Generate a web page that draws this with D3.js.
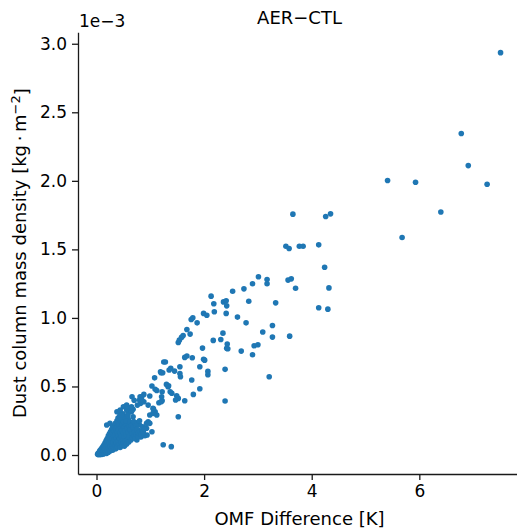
<!DOCTYPE html>
<html>
<head>
<meta charset="utf-8">
<script src="https://cdn.jsdelivr.net/npm/d3@7"></script>
<style>
  html, body { margin: 0; padding: 0; background: #ffffff; }
  svg { display: block; }
  text { font-family: "DejaVu Sans", sans-serif; fill: #000; }
</style>
</head>
<body>
<svg id="chart" width="517" height="532"></svg>
<script>
// ---- Data ----
const chartTitle = "AER\u2212CTL";
const xLabel = "OMF Difference [K]";
const yLabelMain = "Dust column mass density [kg\u2009\u00B7\u2009m";
const yOffsetText = "1e\u22123";

// OMF difference [K]
const omfDiff = [
  7.51, 6.78, 6.91, 7.26, 5.41, 5.93, 6.40, 5.68, 3.65, 4.26, 4.35, 3.52, 3.58, 3.77, 3.84, 4.13,
  4.24, 3.56, 3.62, 3.70, 4.32, 3.01, 3.17, 3.17, 2.90, 2.74, 2.53, 2.13, 2.36, 2.41, 2.18, 2.42,
  2.83, 3.33, 4.13, 4.30, 1.99, 2.05, 2.19, 2.41, 2.62, 2.78, 3.27, 3.09, 3.27, 3.59, 2.35, 2.17,
  2.31, 2.43, 2.42, 2.44, 1.97, 2.69, 2.93, 3.00, 2.90, 1.99, 2.01, 1.92, 2.07, 2.07, 2.39, 3.21,
  1.92, 2.39,
  1.25, 1.28, 1.08, 1.20, 1.23, 1.35, 1.38, 1.55, 1.55, 1.64, 1.68, 1.78, 1.52, 1.54, 1.58, 1.61,
  1.68, 1.74, 1.76, 1.79, 1.87, 1.80, 1.64, 1.52, 1.49, 1.47, 1.40, 1.37, 1.34, 1.56, 1.12, 1.16,
  1.20, 1.22, 1.52, 0.99, 0.84, 0.96, 1.06, 1.09, 0.99, 1.24, 1.39, 1.45, 1.19, 1.30, 1.33, 1.77,
  1.22, 1.21, 0.82, 0.88, 1.05, 1.05, 1.12, 0.96, 0.93, 0.83, 0.90, 0.80, 0.86, 0.43, 0.46, 0.59,
  0.68, 0.76, 0.65, 0.80, 0.88, 0.59, 0.68, 0.74, 0.77, 0.71, 1.03, 1.09, 0.66, 0.70, 0.81, 0.84,
  0.50, 0.56, 0.62, 0.93, 0.99, 1.03, 0.94, 0.81, 0.75,
  0.02, 0.03, 0.04, 0.05, 0.05, 0.06, 0.07, 0.07, 0.08, 0.08, 0.09, 0.10, 0.10, 0.10,
  0.11, 0.12, 0.12, 0.13, 0.13, 0.14, 0.14, 0.15, 0.15, 0.16, 0.16, 0.17, 0.17, 0.18, 0.18, 0.19, 0.19, 0.20, 0.20, 0.20,
  0.21, 0.22, 0.22, 0.22, 0.23, 0.24, 0.24, 0.25, 0.25, 0.26, 0.26, 0.27, 0.27, 0.28, 0.28, 0.29, 0.29, 0.30, 0.30, 0.30,
  0.31, 0.32, 0.32, 0.33, 0.33, 0.34, 0.34, 0.35, 0.35, 0.36, 0.36, 0.37, 0.37, 0.38, 0.38, 0.39, 0.39, 0.40, 0.40, 0.40,
  0.41, 0.42, 0.42, 0.43, 0.43, 0.44, 0.44, 0.45, 0.45, 0.46, 0.46, 0.47, 0.47, 0.48, 0.48, 0.49, 0.49, 0.50, 0.50, 0.50,
  0.51, 0.52, 0.52, 0.53, 0.53, 0.54, 0.55, 0.55, 0.56, 0.56, 0.57, 0.58, 0.58, 0.59, 0.60, 0.60,
  0.61, 0.62, 0.63, 0.64, 0.65, 0.66, 0.67, 0.68, 0.69, 0.70, 0.71, 0.72, 0.73, 0.74, 0.75,
  0.77, 0.78, 0.80, 0.81, 0.83, 0.85, 0.87, 0.89, 0.38, 0.44, 0.47, 0.19, 0.25, 0.56, 0.65
];

// Dust column mass density, in units of 1e-3 kg m^-2
const dustDensityE3 = [
  2.935, 2.345, 2.111, 1.975, 2.002, 1.990, 1.773, 1.587, 1.757, 1.740, 1.759, 1.523, 1.506, 1.523, 1.523, 1.533,
  1.370, 1.276, 1.285, 1.217, 1.219, 1.300, 1.280, 1.249, 1.249, 1.212, 1.195, 1.159, 1.117, 1.125, 1.103, 1.088,
  1.122, 1.110, 1.074, 1.064, 1.033, 1.020, 1.045, 1.033, 1.006, 0.964, 0.945, 0.897, 0.860, 0.867, 0.889, 0.836,
  0.843, 0.809, 0.778, 0.775, 0.780, 0.758, 0.797, 0.804, 0.731, 0.698, 0.692, 0.644, 0.610, 0.585, 0.625, 0.571,
  0.483, 0.394,
  0.678, 0.678, 0.563, 0.600, 0.600, 0.620, 0.632, 0.644, 0.595, 0.712, 0.722, 0.709, 0.821, 0.838, 0.858, 0.872,
  0.916, 0.882, 0.989, 1.001, 0.964, 0.442, 0.396, 0.413, 0.432, 0.401, 0.450, 0.461, 0.505, 0.571, 0.471, 0.381,
  0.388, 0.396, 0.279, 0.430, 0.425, 0.364, 0.335, 0.316, 0.292, 0.075, 0.061, 0.612, 0.607, 0.515, 0.498, 0.547,
  0.461, 0.425, 0.377, 0.388, 0.340, 0.304, 0.292, 0.243, 0.195, 0.133, 0.141, 0.219, 0.206, 0.316, 0.292, 0.308,
  0.333, 0.364, 0.352, 0.401, 0.442, 0.260, 0.279, 0.235, 0.182, 0.195, 0.503, 0.479, 0.425, 0.400, 0.425, 0.401,
  0.352, 0.364, 0.340, 0.231, 0.231, 0.170, 0.146, 0.133, 0.109,
  0.005, 0.012, 0.002, 0.020, 0.008, 0.030, 0.015, 0.003, 0.040, 0.022, 0.010, 0.050, 0.030, 0.005,
  0.018, 0.062, 0.040, 0.008, 0.028, 0.075, 0.052, 0.015, 0.038, 0.090, 0.065, 0.025, 0.045, 0.105, 0.078, 0.012, 0.055, 0.120, 0.092, 0.035,
  0.068, 0.140, 0.108, 0.020, 0.048, 0.085, 0.155, 0.125, 0.030, 0.062, 0.170, 0.100, 0.142, 0.045, 0.185, 0.078, 0.118, 0.160, 0.200, 0.035,
  0.092, 0.055, 0.135, 0.215, 0.175, 0.110, 0.070, 0.150, 0.232, 0.045, 0.190, 0.125, 0.088, 0.250, 0.165, 0.060, 0.205, 0.140, 0.270, 0.100,
  0.180, 0.075, 0.225, 0.120, 0.285, 0.160, 0.055, 0.245, 0.200, 0.095, 0.140, 0.262, 0.180, 0.070, 0.220, 0.115, 0.300, 0.160, 0.240, 0.085,
  0.200, 0.065, 0.130, 0.275, 0.175, 0.100, 0.225, 0.150, 0.080, 0.250, 0.195, 0.115, 0.290, 0.165, 0.095, 0.215,
  0.135, 0.240, 0.185, 0.110, 0.215, 0.155, 0.125, 0.200, 0.245, 0.140, 0.170, 0.120, 0.215, 0.150, 0.185,
  0.135, 0.160, 0.250, 0.170, 0.150, 0.180, 0.165, 0.190, 0.316, 0.328, 0.292, 0.219, 0.231, 0.328, 0.316
];

const xTicks = [0, 2, 4, 6];
const yTicks = [0.0, 0.5, 1.0, 1.5, 2.0, 2.5, 3.0];

// ---- Drawing ----
const svg = d3.select("#chart");
const plotLeft = 78, plotRight = 521, plotTop = 32.3, plotBottom = 474;

const xScale = d3.scaleLinear().domain([-0.344, 7.89]).range([plotLeft, plotRight]);
const yScale = d3.scaleLinear().domain([-0.1385, 3.0835]).range([plotBottom, plotTop]);

const points = omfDiff.map((d, i) => ({ x: d, y: dustDensityE3[i] }));

svg.append("g")
  .selectAll("circle")
  .data(points)
  .join("circle")
  .attr("cx", d => xScale(d.x))
  .attr("cy", d => yScale(d.y))
  .attr("r", 2.8)
  .attr("fill", "#1f77b4");

const xAxis = svg.append("g")
  .attr("transform", `translate(0,${plotBottom})`)
  .call(d3.axisBottom(xScale).tickValues(xTicks).tickFormat(d3.format("d")).tickSize(6).tickPadding(5).tickSizeOuter(0));
const yAxis = svg.append("g")
  .attr("transform", `translate(${plotLeft},0)`)
  .call(d3.axisLeft(yScale).tickValues(yTicks).tickFormat(d3.format(".1f")).tickSize(6).tickPadding(5).tickSizeOuter(0));

[xAxis, yAxis].forEach(g => {
  g.select(".domain").attr("stroke", "#1a1a1a").attr("stroke-width", 1.3);
  g.selectAll(".tick line").attr("stroke", "#1a1a1a").attr("stroke-width", 1.3);
  g.selectAll(".tick text")
    .attr("fill", "#000")
    .style("font-family", "DejaVu Sans, sans-serif")
    .style("font-size", "17px");
});

// Title
svg.append("text")
  .attr("x", (plotLeft + plotRight) / 2)
  .attr("y", 24)
  .attr("text-anchor", "middle")
  .style("font-size", "18px")
  .text(chartTitle);

// Offset text
svg.append("text")
  .attr("x", 79)
  .attr("y", 27)
  .style("font-size", "17px")
  .text(yOffsetText);

// X label
svg.append("text")
  .attr("x", (plotLeft + plotRight) / 2)
  .attr("y", 525)
  .attr("text-anchor", "middle")
  .style("font-size", "18px")
  .text(xLabel);

// Y label with superscript
const yl = svg.append("text")
  .attr("transform", `translate(26,${(plotTop + plotBottom) / 2}) rotate(-90)`)
  .attr("text-anchor", "middle")
  .style("font-size", "18px");
yl.append("tspan").text(yLabelMain);
yl.append("tspan").attr("dy", "-0.45em").style("font-size", "13px").text("\u22122");
yl.append("tspan").attr("dy", "0.45em").text("]");
</script>
</body>
</html>
